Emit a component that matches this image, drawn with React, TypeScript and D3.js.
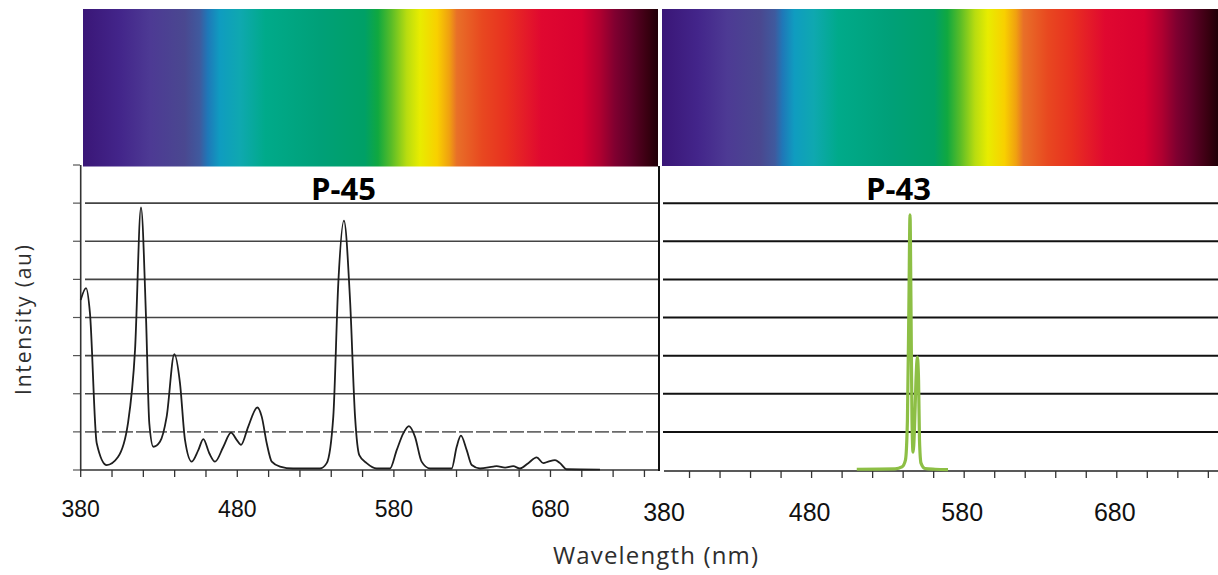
import React from "react";
import * as d3 from "d3";

// wavelength axis (nm)
const xLabels = [380, 480, 580, 680];
const xMinorTicks = [400, 420, 440, 460, 480, 500, 520, 540, 560, 580, 600, 620, 640, 660, 680, 700, 720, 740];
const gridLevels = [1, 2, 3, 4, 5, 6, 7];
const yTickLevels = [0, 1, 2, 3, 4, 5, 6, 7, 8];
const panelTitles = ["P-45", "P-43"];

// P-45 emission
const p45Wavelength = [
  380, 383.4, 385.9, 390.2, 396.6, 403.8, 410.2, 414.7, 418.5, 421.7, 423.8, 426.4, 430.6, 434.9,
  439.8, 443.4, 446.6, 450.9, 455.1, 458.3, 462.1, 465.8, 471.1, 476, 479.6, 482.4, 487, 492.8,
  495.6, 498.8, 502, 507.3, 515.6, 532.8, 537.1, 541.3, 544.5, 548.1, 552, 555.2, 557.9, 562.6,
  569, 577.5, 581.8, 586, 589.6, 593.5, 597.7, 603.1, 616.9, 620.1, 622.8, 626.5, 629.7, 635,
  643.5, 645.6, 651, 656.2, 660.5, 665.8, 671.2, 675.4, 678.6, 682.9, 686.1, 690.3, 711.6,
];
const p45Intensity = [
  4.46, 4.77, 4.12, 0.71, 0.13, 0.34, 1.23, 3.15, 6.89, 4.01, 1.23, 0.61, 0.74, 1.4,
  3.04, 2.28, 0.79, 0.22, 0.52, 0.81, 0.44, 0.22, 0.61, 0.98, 0.79, 0.66, 1.14, 1.64,
  1.4, 0.7, 0.22, 0.09, 0.04, 0.04, 0.18, 1.4, 4.9, 6.54, 4.46, 1.4, 0.39, 0.18,
  0.04, 0.04, 0.52, 0.96, 1.15, 0.87, 0.22, 0.04, 0.04, 0.61, 0.9, 0.52, 0.13, 0.04,
  0.09, 0.1, 0.06, 0.1, 0.04, 0.18, 0.33, 0.18, 0.22, 0.26, 0.18, 0.02, 0.01,
];

// P-43 emission
const p43Wavelength = [
  509.6, 534.7, 539.2, 541.5, 542.8, 543.8, 544.5, 545.1, 545.8, 546.5, 547.4, 548.4, 549.3,
  550.1, 550.7, 551.7, 554.3, 560.9, 569.4,
];
const p43Intensity = [
  0.02, 0.03, 0.08, 0.26, 1.31, 4.46, 6.69, 4.46, 1.31, 0.47, 1.05, 2.36, 2.96,
  2.36, 0.79, 0.18, 0.04, 0.02, 0.01,
];

const spectrumStops: [number, string][] = [
  [0, "#3a1677"], [0.064, "#43258a"], [0.117, "#4d3a94"], [0.177, "#4a4890"], [0.203, "#3f5a9e"],
  [0.217, "#1f78b8"], [0.238, "#0f9cc0"], [0.273, "#0fa8b0"], [0.317, "#00aa8a"], [0.412, "#00a078"],
  [0.49, "#00a066"], [0.513, "#10a840"], [0.536, "#58bc28"], [0.563, "#b8dc10"], [0.586, "#e8ec00"],
  [0.616, "#f8d000"], [0.637, "#f0a010"], [0.65, "#e87028"], [0.694, "#e84820"], [0.737, "#e83020"],
  [0.797, "#e00830"], [0.867, "#d80030"], [0.899, "#b00030"], [0.925, "#800030"], [0.951, "#600028"],
  [0.983, "#380010"], [1, "#200008"],
];

const W = 1218;
const H = 575;

const App = () => {
  const y = d3.scaleLinear().domain([0, 8]).range([470, 165]);
  const xLeft = d3.scaleLinear().domain([380, 750]).range([80.7, 660.1]);
  const xRight = d3.scaleLinear().domain([380, 750]).range([659, 1223.6]);

  const p45 = p45Wavelength.map((w, i) => [w, p45Intensity[i]] as [number, number]);
  const p43 = p43Wavelength.map((w, i) => [w, p43Intensity[i]] as [number, number]);

  const lineL = d3
    .line<[number, number]>()
    .x((d) => xLeft(d[0]))
    .y((d) => y(d[1]))
    .curve(d3.curveMonotoneX);
  const lineR = d3
    .line<[number, number]>()
    .x((d) => xRight(d[0]))
    .y((d) => y(d[1]))
    .curve(d3.curveMonotoneX);

  const tickFont = "'Liberation Sans', Arial, sans-serif";
  const labelFont = "'Open Sans', sans-serif";

  return (
    <svg
      width={W}
      height={H}
      style={{ position: "absolute", left: 0, top: 0, background: "#fff" }}
    >
      <defs>
        <linearGradient id="spec" x1="0" x2="1" y1="0" y2="0">
          {spectrumStops.map(([o, c]) => (
            <stop key={o} offset={o} stopColor={c} />
          ))}
        </linearGradient>
      </defs>

      {/* colour bars */}
      <rect x={83} y={9} width={575} height={157.5} fill="url(#spec)" />
      <rect x={662} y={9} width={556} height={157} fill="url(#spec)" />

      {/* left panel: grid */}
      {gridLevels.map((g) => (
        <line
          key={"gl" + g}
          x1={85}
          x2={658}
          y1={y(g)}
          y2={y(g)}
          stroke={g === 1 ? "#6a6a6a" : "#444"}
          strokeWidth={1.7}
          strokeDasharray={g === 1 ? "14,3" : undefined}
        />
      ))}
      {/* left panel: y ticks */}
      {yTickLevels.map((t) => (
        <line key={"yt" + t} x1={73} x2={80} y1={y(t)} y2={y(t)} stroke="#555" strokeWidth={1.2} />
      ))}
      {/* left panel frame */}
      <line x1={80.7} x2={80.7} y1={165} y2={470} stroke="#333" strokeWidth={1.6} />
      <line x1={80} x2={659} y1={470} y2={470} stroke="#333" strokeWidth={1.6} />
      <line x1={659} x2={659} y1={166} y2={471} stroke="#111" strokeWidth={2} />
      {[380, ...xMinorTicks].map((t) => (
        <line key={"xl" + t} x1={xLeft(t)} x2={xLeft(t)} y1={470} y2={477} stroke="#333" strokeWidth={1.3} />
      ))}
      <path d={lineL(p45) || ""} fill="none" stroke="#1e1e1e" strokeWidth={1.8} strokeLinejoin="round" />

      {/* right panel */}
      {gridLevels.map((g) => (
        <line key={"gr" + g} x1={663} x2={W} y1={y(g)} y2={y(g)} stroke="#111" strokeWidth={2} />
      ))}
      <line x1={664} x2={W} y1={471} y2={471} stroke="#222" strokeWidth={1.6} />
      {xMinorTicks.map((t) => (
        <line key={"xr" + t} x1={xRight(t)} x2={xRight(t)} y1={471} y2={478} stroke="#333" strokeWidth={1.3} />
      ))}
      <path d={lineR(p43) || ""} fill="none" stroke="#8dbf45" strokeWidth={3.2} strokeLinejoin="round" />

      {/* tick labels */}
      {xLabels.map((t) => (
        <text key={"ll" + t} x={xLeft(t)} y={517} textAnchor="middle" fontFamily={tickFont} fontSize={23} fill="#111">
          {t}
        </text>
      ))}
      {xLabels.map((t) => (
        <text
          key={"lr" + t}
          x={t === 380 ? xRight(t) + 5 : xRight(t) - 2}
          y={521}
          textAnchor="middle"
          fontFamily={tickFont}
          fontSize={25}
          fill="#111"
        >
          {t}
        </text>
      ))}

      {/* titles */}
      <text x={343.5} y={200} textAnchor="middle" fontFamily={labelFont} fontWeight={700} fontSize={31} fill="#000">
        {panelTitles[0]}
      </text>
      <text x={898.5} y={200} textAnchor="middle" fontFamily={labelFont} fontWeight={700} fontSize={31} fill="#000">
        {panelTitles[1]}
      </text>

      <text
        transform="translate(31,320) rotate(-90)"
        textAnchor="middle"
        fontFamily={labelFont}
        fontSize={21}
        fill="#2e2e2e"
        textLength={150}
      >
        Intensity (au)
      </text>
      <text x={655.5} y={564} textAnchor="middle" fontFamily={labelFont} fontSize={24} fill="#2e2e2e" textLength={205}>
        Wavelength (nm)
      </text>
    </svg>
  );
};

export default App;
